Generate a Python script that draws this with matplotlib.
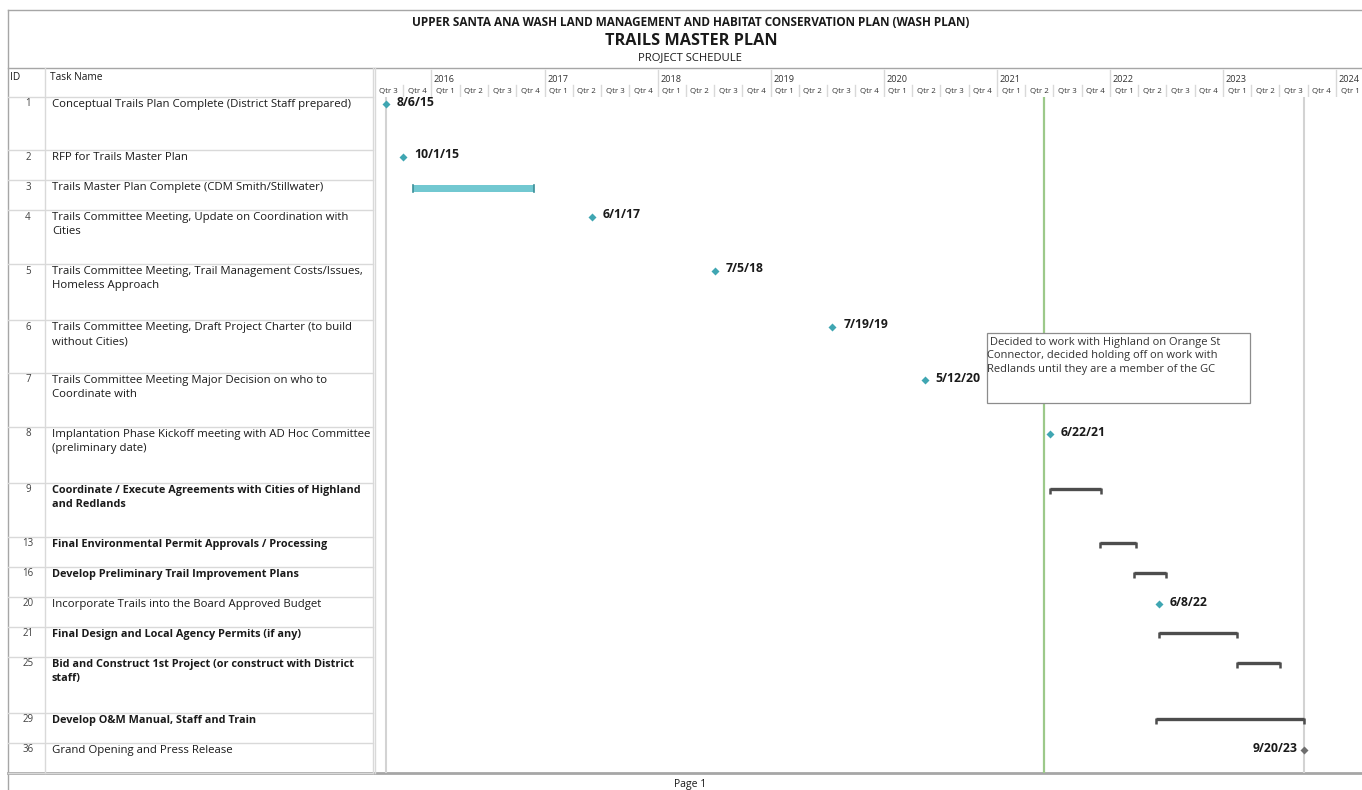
import matplotlib
matplotlib.use("Agg")
import matplotlib.pyplot as plt
import matplotlib.dates as mdates
from matplotlib.patches import Rectangle
from datetime import date

plt.rcParams['font.family'] = ['Open Sans', 'DejaVu Sans']

# ---------------- schedule data ----------------
task_ids = [1, 2, 3, 4, 5, 6, 7, 8, 9, 13, 16, 20, 21, 25, 29, 36]
task_names = [
    "Conceptual Trails Plan Complete (District Staff prepared)",
    "RFP for Trails Master Plan",
    "Trails Master Plan Complete (CDM Smith/Stillwater)",
    "Trails Committee Meeting, Update on Coordination with\nCities",
    "Trails Committee Meeting, Trail Management Costs/Issues,\nHomeless Approach",
    "Trails Committee Meeting, Draft Project Charter (to build\nwithout Cities)",
    "Trails Committee Meeting Major Decision on who to\nCoordinate with",
    "Implantation Phase Kickoff meeting with AD Hoc Committee\n(preliminary date)",
    "Coordinate / Execute Agreements with Cities of Highland\nand Redlands",
    "Final Environmental Permit Approvals / Processing",
    "Develop Preliminary Trail Improvement Plans",
    "Incorporate Trails into the Board Approved Budget",
    "Final Design and Local Agency Permits (if any)",
    "Bid and Construct 1st Project (or construct with District\nstaff)",
    "Develop O&M Manual, Staff and Train",
    "Grand Opening and Press Release",
]
is_summary = [False, False, False, False, False, False, False, False,
              True, True, True, False, True, True, True, False]

# milestones (row index, date, label)
milestone_rows = [0, 1, 3, 4, 5, 6, 7, 11, 15]
milestone_dates = [date(2015, 8, 6), date(2015, 10, 1), date(2017, 6, 1),
                   date(2018, 7, 5), date(2019, 7, 19), date(2020, 5, 12),
                   date(2021, 6, 22), date(2022, 6, 8), date(2023, 9, 20)]
milestone_labels = ["8/6/15", "10/1/15", "6/1/17", "7/5/18", "7/19/19",
                    "5/12/20", "6/22/21", "6/8/22", "9/20/23"]

# regular task bar
task_rows = [2]
task_starts = [date(2015, 11, 1)]
task_ends = [date(2016, 11, 28)]

# summary task brackets
summary_rows = [8, 9, 10, 12, 13, 14]
summary_starts = [date(2021, 6, 22), date(2021, 11, 30), date(2022, 3, 20),
                  date(2022, 6, 8), date(2023, 2, 14), date(2022, 5, 30)]
summary_ends = [date(2021, 12, 3), date(2022, 3, 26), date(2022, 7, 1),
                date(2023, 2, 16), date(2023, 7, 4), date(2023, 9, 20)]

status_date = date(2021, 6, 1)
project_start = date(2015, 8, 6)
project_finish = date(2023, 9, 20)

note_text = (" Decided to work with Highland on Orange St\n"
             "Connector, decided holding off on work with\n"
             "Redlands until they are a member of the GC")
note_start = date(2020, 11, 28)
note_end = date(2023, 3, 28)

view_start = date(2015, 7, 1)
view_end = date(2024, 3, 25)

# ---------------- layout ----------------
W, H = 1362, 790
row_heights = [53, 30, 30, 54, 56, 53, 54, 56, 54, 30, 30, 30, 30, 56, 30, 30]
row_tops = [sum(row_heights[:i]) for i in range(len(row_heights))]
mark_offset = 7

TEAL = "#3fa6b2"
BAR_FILL = "#72c8d1"
SUMMARY = "#4d4d4d"
GRID = "#d9d9d9"
FRAME = "#a6a6a6"
TEXT = "#1a1a1a"

fig = plt.figure(figsize=(W / 100, H / 100), dpi=100)


def fig_rect(x0, y0, x1, y1):
    return [x0 / W, 1 - y1 / H, (x1 - x0) / W, (y1 - y0) / H]


# background / table axes in pixel units
bg = fig.add_axes([0, 0, 1, 1])
bg.set_xlim(0, W)
bg.set_ylim(H, 0)
bg.axis("off")

TABLE_TOP, TABLE_BOT = 97, 773
CHART_X0 = 374.5

# frame lines
bg.plot([8, W], [10, 10], color=FRAME, lw=1.0)
bg.plot([8, W], [68, 68], color=FRAME, lw=1.0)
bg.plot([8, W], [773, 773], color=FRAME, lw=2.0)
bg.plot([8, 8], [10, H], color=FRAME, lw=1.0)

# titles
bg.text(691, 23, "UPPER SANTA ANA WASH LAND MANAGEMENT AND HABITAT CONSERVATION PLAN (WASH PLAN)",
        ha="center", va="center", fontsize=8.5, fontweight="bold", color=TEXT)
bg.text(691, 41, "TRAILS MASTER PLAN", ha="center", va="center",
        fontsize=11.7, fontweight="bold", color=TEXT)
bg.text(690, 58, "PROJECT SCHEDULE", ha="center", va="center",
        fontsize=8.1, color=TEXT)
bg.text(690, 785, "Page 1", ha="center", va="center", fontsize=7.5, color=TEXT)

# table header
bg.text(10, 77, "ID", ha="left", va="center", fontsize=7.3, color=TEXT)
bg.text(50, 77, "Task Name", ha="left", va="center", fontsize=7.3, color=TEXT)
bg.plot([8, 373], [TABLE_TOP, TABLE_TOP], color=GRID, lw=1.0)
for xv in (45, 373):
    bg.plot([xv, xv], [68, TABLE_BOT], color=GRID, lw=1.0)
bg.plot([CHART_X0, CHART_X0], [68, TABLE_BOT], color=GRID, lw=1.0)

# table rows
for i, (tid, name, summ) in enumerate(zip(task_ids, task_names, is_summary)):
    top = TABLE_TOP + row_tops[i]
    bottom = top + row_heights[i]
    bg.plot([8, 373], [bottom, bottom], color=GRID, lw=1.0)
    bg.text(28, top + mark_offset, str(tid), ha="center", va="center",
            fontsize=7, color="#404040")
    bg.text(52, top + mark_offset - 5, name, ha="left", va="top",
            fontsize=7.8 if summ else 8.2, color=TEXT, linespacing=1.4,
            fontweight="bold" if summ else "normal")

# ---------------- timescale header ----------------
xmin, xmax = mdates.date2num(view_start), mdates.date2num(view_end)
hdr = fig.add_axes(fig_rect(CHART_X0, 68, W, TABLE_TOP))
hdr.set_xlim(xmin, xmax)
hdr.set_ylim(29, 0)
hdr.axis("off")

for yr in range(2015, 2025):
    for q in range(4):
        qs = date(yr, 3 * q + 1, 1)
        qe = date(yr + 1, 1, 1) if q == 3 else date(yr, 3 * q + 4, 1)
        s, e = mdates.date2num(qs), mdates.date2num(qe)
        if e <= xmin or s >= xmax:
            continue
        if s > xmin:
            top = 2 if q == 0 else 17
            hdr.plot([s, s], [top, 29], color=GRID, lw=1.0)
        if q == 0 and s > xmin:
            hdr.text(s + 8, 12, str(yr), ha="left", va="center",
                     fontsize=6.6, color="#333333")
        hdr.text((s + e) / 2, 23, f"Qtr {q + 1}", ha="center", va="center",
                 fontsize=5.7, color="#333333", clip_on=True)

# ---------------- gantt area ----------------
ax = fig.add_axes(fig_rect(CHART_X0, TABLE_TOP, W, TABLE_BOT))
ax.set_xlim(xmin, xmax)
ax.set_ylim(sum(row_heights), 0)
ax.axis("off")

# project start / finish and status date lines
for d in (project_start, project_finish):
    ax.axvline(mdates.date2num(d), color="#d3d3d3", lw=1.5, zorder=1)
ax.axvline(mdates.date2num(status_date), color="#9cc98a", lw=1.6, zorder=1)

# milestones
for r, d, lab in zip(milestone_rows, milestone_dates, milestone_labels):
    y = row_tops[r] + mark_offset
    xd = mdates.date2num(d)
    grey = (d == project_finish)
    ax.plot(xd, y, marker="D", ms=4.4, color="#6e6e6e" if grey else TEAL,
            mec="none", zorder=4)
    if grey:
        ax.text(xd - 22, y - 2, lab, ha="right", va="center", fontsize=8.8,
                fontweight="bold", color=TEXT)
    else:
        ax.text(xd + 35, y - 2, lab, ha="left", va="center", fontsize=8.8,
                fontweight="bold", color=TEXT)

# regular task bars
for r, s, e in zip(task_rows, task_starts, task_ends):
    y = row_tops[r] + mark_offset + 1
    s_n, e_n = mdates.date2num(s), mdates.date2num(e)
    ax.add_patch(Rectangle((s_n, y - 3.5), e_n - s_n, 7, facecolor=BAR_FILL,
                           edgecolor="none", zorder=3))
    for xv in (s_n, e_n):
        ax.plot([xv, xv], [y - 3.5, y + 3.5], color="#3b8f98", lw=1.2, zorder=4)

# summary brackets
for r, s, e in zip(summary_rows, summary_starts, summary_ends):
    y = row_tops[r] + mark_offset - 1
    s_n, e_n = mdates.date2num(s), mdates.date2num(e)
    ax.plot([s_n, e_n], [y, y], color=SUMMARY, lw=2.4, solid_capstyle="butt",
            zorder=4)
    for xv in (s_n, e_n):
        ax.plot([xv, xv], [y - 1, y + 5], color=SUMMARY, lw=1.8,
                solid_capstyle="butt", zorder=4)

# note box
n0, n1 = mdates.date2num(note_start), mdates.date2num(note_end)
ax.add_patch(Rectangle((n0, 236), n1 - n0, 70, facecolor="white",
                       edgecolor="#8c8c8c", lw=0.9, zorder=5))
ax.text(n0 + 2, 240, note_text, ha="left", va="top", fontsize=8.0,
        color="#333333", linespacing=1.3, zorder=6)

fig.savefig("out.png", dpi=100)
